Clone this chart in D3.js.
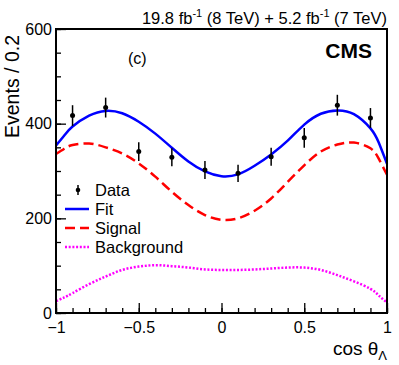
<!DOCTYPE html>
<html lang="en">
<head>
    <meta charset="UTF-8">
    <script src="https://d3js.org/d3.v7.min.js"></script>
    <title>cos theta Lambda</title>
    <style>
        body { margin: 0; background: #fff; }
        text { font-family: "Liberation Sans", Arial, sans-serif; fill: #000; }
        .tick text { font-size: 16px; }
        .axis path.domain { display: none; }
        .axis line { stroke: #000; stroke-width: 1.3px; }
    </style>
</head>
<body>
    <svg width="399" height="365"></svg>
    <script>
        // data points (bin centres), events per 0.2
        var binX   = [-0.9, -0.7, -0.5, -0.3, -0.1, 0.1, 0.3, 0.5, 0.7, 0.9];
        var counts = [417, 434, 341, 329, 302, 295, 330, 370, 439, 412];
        var errs   = [22, 21, 20, 19, 19, 18, 19, 21, 22, 21];

        // curves
        var curveX     = [-1, -0.95, -0.9, -0.8, -0.7, -0.6, -0.5, -0.4, -0.3, -0.2, -0.1, 0, 0.1, 0.2, 0.3, 0.4, 0.5, 0.6, 0.7, 0.8, 0.9, 0.95, 1];
        var fitY       = [354, 375, 394, 417, 427, 422, 404, 379, 349, 320, 299, 289, 293, 311, 335, 364, 398, 421, 428, 420, 390, 360, 315];
        var signalY    = [336, 347, 355, 358, 350, 337, 316, 288, 256, 228, 207, 197, 200, 216, 242, 277, 312, 341, 356, 360, 348, 326, 292];
        var backgroundY = [25, 33, 42, 61, 77, 91, 98, 101, 99, 96, 92, 91, 91, 92, 94, 96, 96, 91, 80, 67, 51, 37, 22];

        var xTicks = [-1, -0.5, 0, 0.5, 1];
        var yTicks = [0, 200, 400, 600];
        var legendNames = ["Data", "Fit", "Signal", "Background"];

        var svg = d3.select("svg");
        var x = d3.scaleLinear().domain([-1, 1]).range([56, 387]);
        var y = d3.scaleLinear().domain([0, 600]).range([313, 29]);

        // minor ticks
        svg.append("g").attr("class", "axis")
            .attr("transform", "translate(56,0)")
            .call(d3.axisLeft(y).tickValues(d3.range(0, 601, 50)).tickSize(-5).tickFormat(""));
        svg.append("g").attr("class", "axis")
            .attr("transform", "translate(0,313)")
            .call(d3.axisBottom(x).tickValues(d3.range(-10, 11).map(d => d / 10)).tickSize(-5).tickFormat(""));
        // major ticks
        svg.append("g").attr("class", "axis")
            .attr("transform", "translate(56,0)")
            .call(d3.axisLeft(y).tickValues(yTicks).tickSize(-10).tickPadding(4));
        svg.append("g").attr("class", "axis")
            .attr("transform", "translate(0,313)")
            .call(d3.axisBottom(x).tickValues(xTicks).tickSize(-10).tickPadding(9).tickFormat(d3.format("~g")));

        var line = d3.line().curve(d3.curveNatural);
        var pts = ys => curveX.map((v, i) => [x(v), y(ys[i])]);

        svg.append("path").attr("d", line(pts(backgroundY)))
            .attr("fill", "none").attr("stroke", "#ff00ff").attr("stroke-width", 2.5).attr("stroke-dasharray", "2,1.7");
        svg.append("path").attr("d", line(pts(signalY)))
            .attr("fill", "none").attr("stroke", "#ff0000").attr("stroke-width", 2.5).attr("stroke-dasharray", "10,5");
        svg.append("path").attr("d", line(pts(fitY)))
            .attr("fill", "none").attr("stroke", "#0000ff").attr("stroke-width", 2.5);

        // data with error bars
        var g = svg.append("g");
        g.selectAll("line").data(binX).enter().append("line")
            .attr("x1", d => x(d)).attr("x2", d => x(d))
            .attr("y1", (d, i) => y(counts[i] - errs[i]))
            .attr("y2", (d, i) => y(counts[i] + errs[i]))
            .attr("stroke", "#000").attr("stroke-width", 1.5);
        g.selectAll("circle").data(binX).enter().append("circle")
            .attr("cx", d => x(d)).attr("cy", (d, i) => y(counts[i]))
            .attr("r", 2.5).attr("fill", "#000");

        // frame
        svg.append("rect").attr("x", 56).attr("y", 29).attr("width", 331).attr("height", 284)
            .attr("fill", "none").attr("stroke", "#000").attr("stroke-width", 2);

        // legend
        var lg = svg.append("g");
        var rowY = [190, 209, 228, 247];
        lg.append("line").attr("x1", 78).attr("x2", 78).attr("y1", rowY[0] - 5).attr("y2", rowY[0] + 5)
            .attr("stroke", "#000").attr("stroke-width", 1.5);
        lg.append("circle").attr("cx", 78).attr("cy", rowY[0]).attr("r", 2.3).attr("fill", "#000");
        lg.append("line").attr("x1", 65).attr("x2", 89).attr("y1", rowY[1]).attr("y2", rowY[1])
            .attr("stroke", "#0000ff").attr("stroke-width", 2.5);
        lg.append("line").attr("x1", 65).attr("x2", 89).attr("y1", rowY[2]).attr("y2", rowY[2])
            .attr("stroke", "#ff0000").attr("stroke-width", 2.5).attr("stroke-dasharray", "10,5");
        lg.append("line").attr("x1", 65).attr("x2", 89).attr("y1", rowY[3]).attr("y2", rowY[3])
            .attr("stroke", "#ff00ff").attr("stroke-width", 2.5).attr("stroke-dasharray", "2,1.7");
        lg.selectAll("text").data(legendNames).enter().append("text")
            .attr("x", 95).attr("y", (d, i) => rowY[i] + 6)
            .style("font-size", "16.5px").text(d => d);

        // labels
        svg.append("text").attr("transform", "translate(19,35) rotate(-90)")
            .attr("text-anchor", "end").style("font-size", "19.5px").text("Events / 0.2");

        var xl = svg.append("text").attr("x", 387).attr("y", 355).attr("text-anchor", "end").style("font-size", "19px");
        xl.append("tspan").text("cos \u03b8");
        xl.append("tspan").attr("dy", 5).style("font-size", "13px").text("\u039b");

        var lumi = svg.append("text").attr("x", 387).attr("y", 24).attr("text-anchor", "end").style("font-size", "16.5px");
        lumi.append("tspan").text("19.8 fb");
        lumi.append("tspan").attr("dy", -7).style("font-size", "11px").text("-1");
        lumi.append("tspan").attr("dy", 7).text(" (8 TeV) + 5.2 fb");
        lumi.append("tspan").attr("dy", -7).style("font-size", "11px").text("-1");
        lumi.append("tspan").attr("dy", 7).text(" (7 TeV)");

        svg.append("text").attr("x", 372).attr("y", 58).attr("text-anchor", "end")
            .style("font-size", "21px").style("font-weight", "bold").text("CMS");
        svg.append("text").attr("x", 128).attr("y", 64).style("font-size", "16px").text("(c)");
    </script>
</body>
</html>
